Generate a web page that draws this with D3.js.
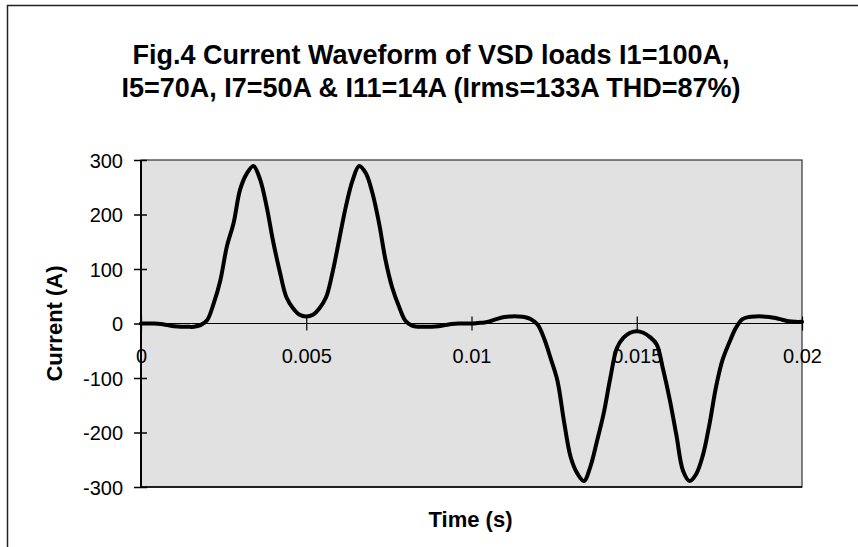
<!DOCTYPE html>
<html>
<head>
<meta charset="utf-8">
<script src="https://cdn.jsdelivr.net/npm/d3@7/dist/d3.min.js"></script>
<style>
  html, body { margin: 0; padding: 0; background: #fff; }
  svg { display: block; font-family: "Liberation Sans", Arial, sans-serif; }
</style>
</head>
<body>
<svg id="chart" width="858" height="547"></svg>
<script>
// ---- data ----
const titleLines = [
  "Fig.4 Current Waveform of VSD loads I1=100A,",
  "I5=70A, I7=50A & I11=14A (Irms=133A THD=87%)"
];
const xAxisTitle = "Time (s)";
const yAxisTitle = "Current (A)";
const xTickValues = [0, 0.005, 0.01, 0.015, 0.02];
const xTickLabels = ["0", "0.005", "0.01", "0.015", "0.02"];
const yTickValues = [-300, -200, -100, 0, 100, 200, 300];
const yTickLabels = ["-300", "-200", "-100", "0", "100", "200", "300"];

const timeS = [
  0.0000, 0.0002, 0.0004, 0.0006, 0.0008, 0.0010, 0.0012, 0.0014, 0.0016, 0.0018,
  0.0020, 0.0022, 0.0024, 0.0026, 0.0028, 0.0030, 0.0032, 0.0034, 0.0036, 0.0038,
  0.0040, 0.0042, 0.0044, 0.0046, 0.0048, 0.0050, 0.0052, 0.0054, 0.0056, 0.0058,
  0.0060, 0.0062, 0.0064, 0.0066, 0.0068, 0.0070, 0.0072, 0.0074, 0.0076, 0.0078,
  0.0080, 0.0082, 0.0084, 0.0086, 0.0088, 0.0090, 0.0092, 0.0094, 0.0096, 0.0098,
  0.0100, 0.0102, 0.0104, 0.0106, 0.0108, 0.0110, 0.0112, 0.0114, 0.0116, 0.0118,
  0.0120, 0.0122, 0.0124, 0.0126, 0.0128, 0.0130, 0.0132, 0.0134, 0.0136, 0.0138,
  0.0140, 0.0142, 0.0144, 0.0146, 0.0148, 0.0150, 0.0152, 0.0154, 0.0156, 0.0158,
  0.0160, 0.0162, 0.0164, 0.0166, 0.0168, 0.0170, 0.0172, 0.0174, 0.0176, 0.0178,
  0.0180, 0.0182, 0.0184, 0.0186, 0.0188, 0.0190, 0.0192, 0.0194, 0.0196, 0.0198,
  0.0200
];
const currentA = [
     0,    0,    0,   -1,   -3,   -5,   -6,   -6,   -6,   -3,
     6,   37,   79,  142,  184,  246,  275,  289,  265,  215,
   150,   95,   48,   28,   16,   13,   16,   28,   48,   95,
   155,  215,  262,  289,  276,  240,  185,  116,   66,   32,
     5,   -4,   -6,   -6,   -6,   -5,   -3,   -1,    0,    0,
     0,    1,    2,    5,    9,   12,   13,   13,   12,    8,
    -2,  -28,  -65, -105, -180, -245, -275, -289, -262, -215,
  -165, -100,  -45,  -26,  -17,  -14,  -17,  -25,  -38,  -85,
  -140, -205, -270, -289, -276, -242, -185, -116,  -66,  -35,
    -8,    8,   12,   13,   13,   12,   10,    7,    4,    3,
     3
];

// ---- layout ----
const svg = d3.select("#chart");
const W = 858, H = 547;
const plot = { left: 141, top: 160, right: 802, bottom: 487 };

svg.append("rect").attr("x", 0).attr("y", 0).attr("width", W).attr("height", H).attr("fill", "#fff");
// chart-area border (extends past the photographed window on right/bottom)
svg.append("rect")
  .attr("x", 7.5).attr("y", 5.5).attr("width", 900).attr("height", 600)
  .attr("fill", "none").attr("stroke", "#222").attr("stroke-width", 1.5);

const x = d3.scaleLinear().domain([0, 0.02]).range([plot.left, plot.right]);
const y = d3.scaleLinear().domain([-300, 300]).range([plot.bottom, plot.top]);

// plot area
svg.append("rect")
  .attr("x", plot.left).attr("y", plot.top)
  .attr("width", plot.right - plot.left).attr("height", plot.bottom - plot.top)
  .attr("fill", "#e1e1e1").attr("stroke", "#333").attr("stroke-width", 1.2);

// title
const title = svg.append("text")
  .attr("text-anchor", "middle")
  .attr("font-weight", "bold").attr("font-size", 27).attr("fill", "#000");
titleLines.forEach((t, i) => {
  title.append("tspan").attr("x", 431).attr("y", 64 + i * 33).text(t);
});

// y axis (left), ticks crossing
const yAxis = d3.axisLeft(y).tickValues(yTickValues)
  .tickFormat((d, i) => yTickLabels[i]).tickSize(0).tickPadding(0);
const gy = svg.append("g").attr("transform", `translate(${plot.left},0)`).call(yAxis);
gy.select(".domain").remove();
gy.selectAll(".tick text")
  .attr("x", -18).attr("dy", "0.35em")
  .attr("font-size", 20).attr("font-family", "Liberation Sans, Arial, sans-serif").attr("fill", "#000");
gy.selectAll(".tick").append("line")
  .attr("x1", -7).attr("x2", 6).attr("stroke", "#000").attr("stroke-width", 1.5);
svg.append("line")
  .attr("x1", plot.left).attr("x2", plot.left).attr("y1", plot.top).attr("y2", plot.bottom)
  .attr("stroke", "#000").attr("stroke-width", 2);
svg.append("line")
  .attr("x1", plot.left).attr("x2", plot.right).attr("y1", plot.bottom).attr("y2", plot.bottom)
  .attr("stroke", "#000").attr("stroke-width", 1.5);

// x axis at zero, ticks crossing
const xAxis = d3.axisBottom(x).tickValues(xTickValues)
  .tickFormat((d, i) => xTickLabels[i]).tickSize(0).tickPadding(0);
const gx = svg.append("g").attr("transform", `translate(0,${y(0)})`).call(xAxis);
gx.select(".domain").remove();
gx.selectAll(".tick text")
  .attr("y", 39).attr("dy", 0)
  .attr("font-size", 20).attr("font-family", "Liberation Sans, Arial, sans-serif").attr("fill", "#000");
gx.selectAll(".tick").append("line")
  .attr("y1", -7).attr("y2", 7).attr("stroke", "#000").attr("stroke-width", 1.2);
svg.append("line")
  .attr("x1", plot.left).attr("x2", plot.right).attr("y1", y(0)).attr("y2", y(0))
  .attr("stroke", "#000").attr("stroke-width", 1.2);

// waveform
const pts = timeS.map((t, i) => [t, currentA[i]]);
svg.append("path")
  .datum(pts)
  .attr("fill", "none").attr("stroke", "#000").attr("stroke-width", 4)
  .attr("stroke-linejoin", "round").attr("stroke-linecap", "round")
  .attr("d", d3.line().x(d => x(d[0])).y(d => y(d[1])).curve(d3.curveCatmullRom.alpha(0.5)));

// axis titles
svg.append("text")
  .attr("x", plot.left + (plot.right - plot.left) / 2 - 1).attr("y", 527)
  .attr("text-anchor", "middle").attr("font-weight", "bold").attr("font-size", 22)
  .attr("fill", "#000").text(xAxisTitle);
svg.append("text")
  .attr("transform", `translate(62,${(plot.top + plot.bottom) / 2}) rotate(-90)`)
  .attr("text-anchor", "middle").attr("font-weight", "bold").attr("font-size", 22)
  .attr("fill", "#000").text(yAxisTitle);
</script>
</body>
</html>
